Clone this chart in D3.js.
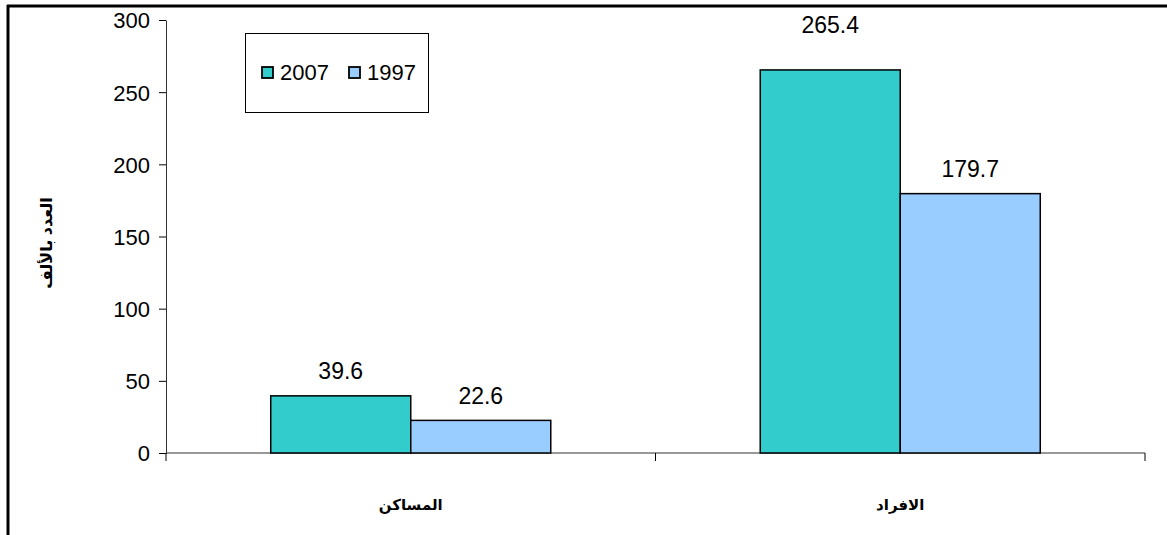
<!DOCTYPE html>
<html><head><meta charset="utf-8">
<script src="https://cdn.jsdelivr.net/npm/d3@7"></script>
<style>
html,body{margin:0;padding:0;background:#fff;}
svg{display:block;}
text{font-family:"Liberation Sans",Arial,"DejaVu Sans",sans-serif;}
</style></head>
<body>
<svg id="c" width="1167" height="535"></svg>
<script>
const categories = ["المساكن", "الافراد"];
const seriesNames = ["2007", "1997"];
const values2007 = [39.6, 265.4];
const values1997 = [22.6, 179.7];
const yTicks = [0, 50, 100, 150, 200, 250, 300];
const yTitle = "العدد بالألف";
const colors = ["#33CCCC", "#99CCFF"];

const svg = d3.select("#c");
const m = {left:166, right:1145, top:20, bottom:453};

// outer frame lines (top and left)
svg.append("line").attr("x1",7).attr("x2",1167).attr("y1",6).attr("y2",6).attr("stroke","#000").attr("stroke-width",3);
svg.append("line").attr("x1",8).attr("x2",8).attr("y1",5).attr("y2",535).attr("stroke","#000").attr("stroke-width",3);

const y = d3.scaleLinear().domain([0,300]).range([m.bottom, m.top]);
const x0 = d3.scaleBand().domain(categories).range([m.left, m.right]).padding(0);
const x1 = d3.scaleBand().domain(seriesNames).range([0, x0.bandwidth()]).paddingInner(0).paddingOuter(0.748);

const data = categories.map((c,i)=>({cat:c, vals:[{s:seriesNames[0], v:values2007[i]},{s:seriesNames[1], v:values1997[i]}]}));
const maxV = d3.max([...values2007, ...values1997]);

// y axis
const yAxis = d3.axisLeft(y).tickValues(yTicks).tickSize(7).tickSizeOuter(0).tickPadding(9);
const gy = svg.append("g").attr("transform",`translate(${m.left},0)`).call(yAxis);
gy.select(".domain").attr("stroke","#333");
gy.selectAll(".tick text").attr("font-size",22).attr("fill","#000").attr("dy","0.36em")
  .attr("font-family","'Liberation Sans',Arial,sans-serif");
gy.selectAll(".tick line").attr("stroke","#000");

// x axis
const gx = svg.append("g").attr("transform",`translate(0,${m.bottom})`);
gx.append("line").attr("x1",m.left).attr("x2",m.right).attr("stroke","#333");
const xb = [m.left, ...categories.map(c=>x0(c)+x0.bandwidth())];
gx.selectAll("line.t").data(xb).join("line").attr("class","t")
  .attr("x1",d=>d).attr("x2",d=>d).attr("y1",0).attr("y2",8).attr("stroke","#000");
gx.selectAll("text").data(categories).join("text")
  .attr("x",d=>x0(d)+x0.bandwidth()/2).attr("y",57)
  .attr("text-anchor","middle").attr("font-size",15).attr("font-weight","bold")
  .attr("font-family","'DejaVu Sans',sans-serif")
  .text(d=>d);

// bars
const g = svg.append("g").selectAll("g").data(data).join("g")
  .attr("transform",d=>`translate(${x0(d.cat)},0)`);
g.selectAll("rect").data(d=>d.vals).join("rect")
  .attr("x",d=>x1(d.s)).attr("width",x1.bandwidth())
  .attr("y",d=>y(d.v)).attr("height",d=>y(0)-y(d.v))
  .attr("fill",(d,i)=>colors[i]).attr("stroke","#000").attr("stroke-width",1.5);
g.selectAll("text").data(d=>d.vals).join("text")
  .attr("x",d=>x1(d.s)+x1.bandwidth()/2)
  .attr("y",d=> d.v===maxV ? m.top+13 : y(d.v)-16.5)
  .attr("text-anchor","middle").attr("font-size",23).attr("fill","#000")
  .text(d=>d.v.toFixed(1));

// y title
svg.append("text").attr("transform","translate(52,243) rotate(-90)")
  .attr("text-anchor","middle").attr("font-size",16).attr("font-weight","bold")
  .attr("font-family","'DejaVu Sans',sans-serif")
  .text(yTitle);

// legend
const lg = svg.append("g");
lg.append("rect").attr("x",245.5).attr("y",33.5).attr("width",183).attr("height",79)
  .attr("fill","#fff").attr("stroke","#000").attr("stroke-width",1);
const lx = [262, 349];
seriesNames.forEach((s,i)=>{
  lg.append("rect").attr("x",lx[i]).attr("y",67).attr("width",11).attr("height",11)
    .attr("fill",colors[i]).attr("stroke","#000").attr("stroke-width",1.8);
  lg.append("text").attr("x",lx[i]+18).attr("y",80).attr("font-size",22).text(s);
});
</script>
</body></html>
